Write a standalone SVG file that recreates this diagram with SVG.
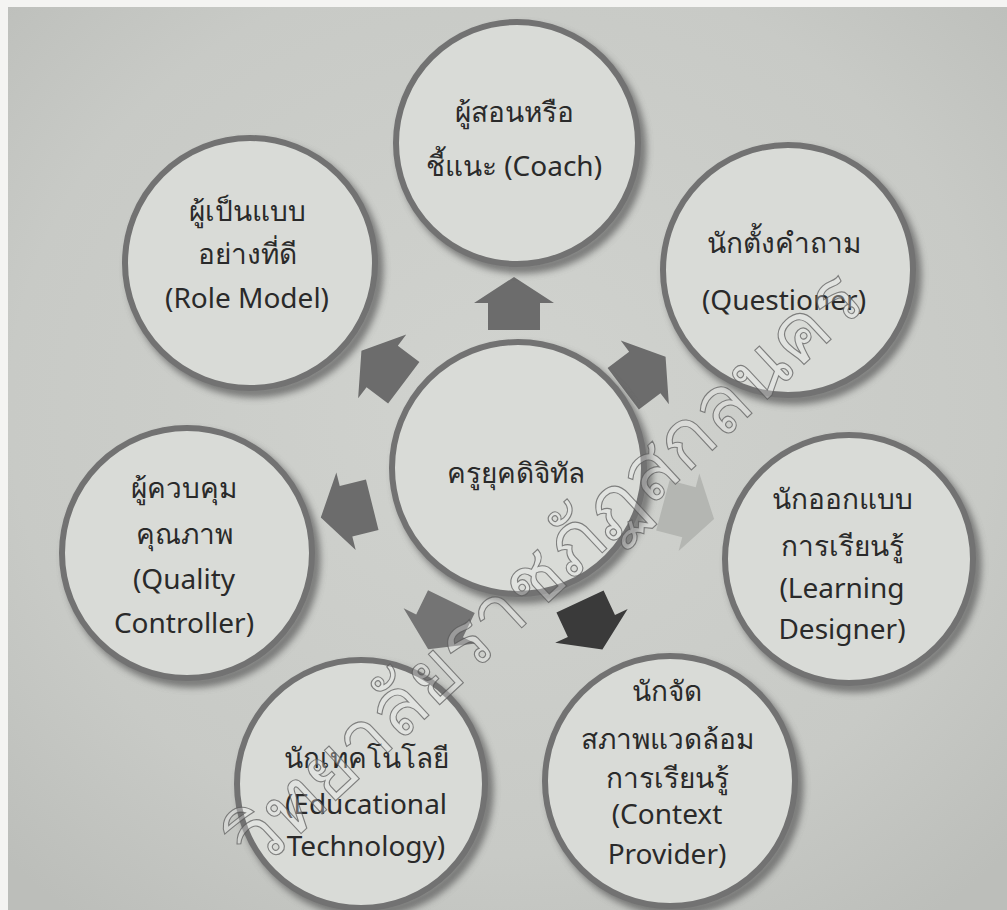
<svg xmlns="http://www.w3.org/2000/svg" width="1007" height="910" viewBox="0 0 1007 910">
  <defs>
    <radialGradient id="paper" cx="50%" cy="45%" r="70%">
      <stop offset="0" stop-color="#d1d3cf"/>
      <stop offset="0.7" stop-color="#c8cac6"/>
      <stop offset="1" stop-color="#bcbeba"/>
    </radialGradient>
    <filter id="blur" x="-20%" y="-20%" width="140%" height="140%">
      <feGaussianBlur stdDeviation="3.5"/>
    </filter>
    <path id="arrow" d="M0,-27 L40,-1 L26,-1 L26,26 L-26,26 L-26,-1 L-40,-1 Z"/>
  </defs>
  <style>
    .shadow { fill: none; stroke: #5a5a5a; stroke-width: 11; opacity: 0.75; }
    .ring { fill: #d9dbd7; stroke: #727272; stroke-width: 6; }
    .label { font-family: "Noto Sans", "Open Sans", "Liberation Sans", sans-serif; font-size: 28px; fill: #2a2a2a; text-anchor: middle; }
    .arr { fill: #6c6c6c; }
    .wm { font-family: "Noto Sans", "Liberation Sans", sans-serif; font-size: 80px; fill: #f4f4f4; fill-opacity: 0.3; stroke: #555555; stroke-width: 1.1; stroke-opacity: 0.7; }
  </style>

  <rect x="0" y="0" width="1007" height="910" fill="url(#paper)"/>
  <rect x="0" y="0" width="1007" height="7" fill="#f4f4f2"/>
  <rect x="0" y="0" width="8" height="910" fill="#f4f4f2"/>

  <g id="connectors">
    <use href="#arrow" class="arr" transform="translate(514,304)"/>
    <use href="#arrow" class="arr" transform="translate(644,373) rotate(53)"/>
    <use href="#arrow" fill="#b4b6b2" transform="translate(688,512) rotate(105)"/>
    <use href="#arrow" fill="#3a3a3a" transform="translate(591,625) rotate(155)"/>
    <use href="#arrow" fill="#747474" transform="translate(440,625) rotate(206)"/>
    <use href="#arrow" class="arr" transform="translate(347,511) rotate(256)"/>
    <use href="#arrow" class="arr" transform="translate(383,367) rotate(307)"/>
  </g>

  <g id="node-coach">
    <circle class="shadow" cx="522" cy="149" r="119" filter="url(#blur)"/>
    <circle class="ring" cx="517" cy="143" r="121"/>
    <text class="label" x="514" y="122">ผู้สอนหรือ</text>
    <text class="label" x="514" y="176">ชี้แนะ (Coach)</text>
  </g>

  <g id="node-role-model">
    <circle class="shadow" cx="255" cy="269" r="123" filter="url(#blur)"/>
    <circle class="ring" cx="250" cy="263" r="125"/>
    <text class="label" x="247" y="221">ผู้เป็นแบบ</text>
    <text class="label" x="247" y="264">อย่างที่ดี</text>
    <text class="label" x="247" y="308">(Role Model)</text>
  </g>

  <g id="node-questioner">
    <circle class="shadow" cx="793" cy="276" r="123" filter="url(#blur)"/>
    <circle class="ring" cx="788" cy="270" r="125"/>
    <text class="label" x="784" y="253">นักตั้งคำถาม</text>
    <text class="label" x="784" y="310">(Questioner)</text>
  </g>

  <g id="node-center">
    <circle class="shadow" cx="523" cy="474" r="124" filter="url(#blur)"/>
    <circle class="ring" cx="518" cy="468" r="126"/>
    <text class="label" x="516" y="483">ครูยุคดิจิทัล</text>
  </g>

  <g id="node-quality">
    <circle class="shadow" cx="192" cy="559" r="123" filter="url(#blur)"/>
    <circle class="ring" cx="187" cy="553" r="125"/>
    <text class="label" x="184" y="498">ผู้ควบคุม</text>
    <text class="label" x="184" y="544">คุณภาพ</text>
    <text class="label" x="184" y="589">(Quality</text>
    <text class="label" x="184" y="633">Controller)</text>
  </g>

  <g id="node-learning-designer">
    <circle class="shadow" cx="854" cy="565" r="122" filter="url(#blur)"/>
    <circle class="ring" cx="849" cy="559" r="124"/>
    <text class="label" x="842" y="509">นักออกแบบ</text>
    <text class="label" x="842" y="556">การเรียนรู้</text>
    <text class="label" x="842" y="598">(Learning</text>
    <text class="label" x="842" y="639">Designer)</text>
  </g>

  <g id="node-context-provider">
    <circle class="shadow" cx="675" cy="787" r="123" filter="url(#blur)"/>
    <circle class="ring" cx="670" cy="781" r="125"/>
    <text class="label" x="667" y="701">นักจัด</text>
    <text class="label" x="667" y="749">สภาพแวดล้อม</text>
    <text class="label" x="667" y="788">การเรียนรู้</text>
    <text class="label" x="667" y="824">(Context</text>
    <text class="label" x="667" y="864">Provider)</text>
  </g>

  <g id="node-edtech">
    <circle class="shadow" cx="366" cy="790" r="122" filter="url(#blur)"/>
    <circle class="ring" cx="361" cy="784" r="124"/>
    <text class="label" x="366" y="768">นักเทคโนโลยี</text>
    <text class="label" x="366" y="814">(Educational</text>
    <text class="label" x="366" y="856">Technology)</text>
  </g>

  <text class="wm" text-anchor="end" transform="translate(868,305) rotate(-43)">วิทยาลัยราชภัฏสกลนคร</text>
</svg>
